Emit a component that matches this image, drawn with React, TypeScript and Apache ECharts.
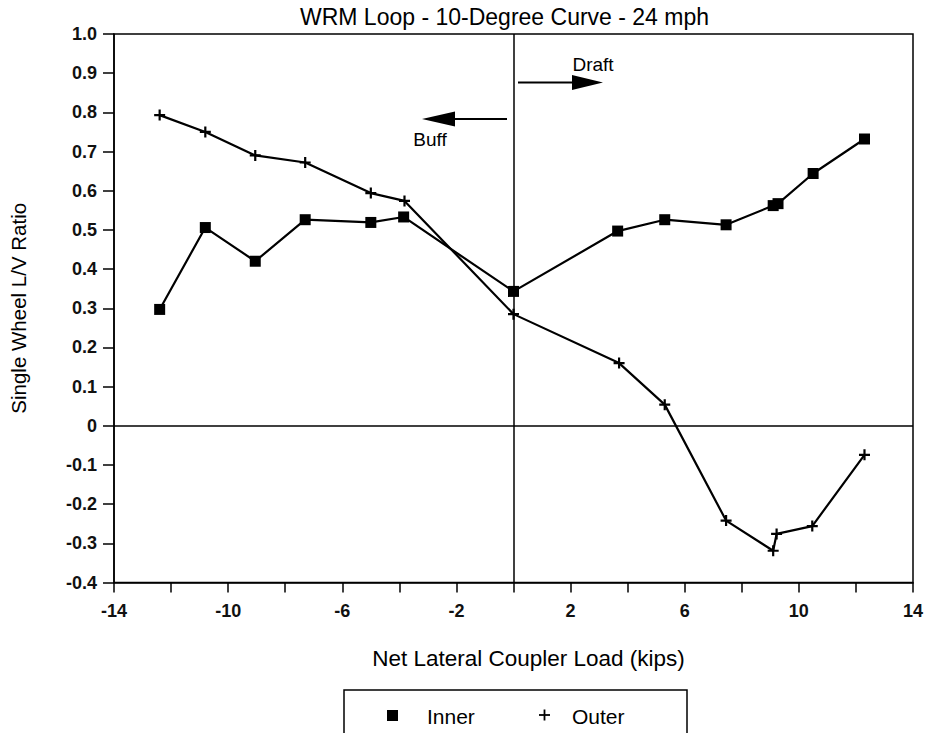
import React, { useEffect, useRef } from "react";
import * as echarts from "echarts";

const TITLE = "WRM Loop - 10-Degree Curve - 24 mph";
const X_NAME = "Net Lateral Coupler Load (kips)";
const Y_NAME = "Single Wheel L/V Ratio";

const innerX = [-12.4, -10.8, -9.05, -7.3, -5.0, -3.85, 0, 3.65, 5.3, 7.45, 9.1, 9.27, 10.5, 12.3];
const innerY = [0.297, 0.506, 0.42, 0.526, 0.519, 0.533, 0.343, 0.497, 0.526, 0.513, 0.562, 0.567, 0.644, 0.732];

const outerX = [-12.4, -10.8, -9.05, -7.3, -5.0, -3.82, 0, 3.7, 5.3, 7.45, 9.1, 9.22, 10.47, 12.3];
const outerY = [0.793, 0.75, 0.69, 0.672, 0.594, 0.574, 0.285, 0.16, 0.054, -0.242, -0.319, -0.276, -0.256, -0.074];

const legendNames = ["Inner", "Outer"];

const FONT = "'Liberation Sans', Arial, Helvetica, sans-serif";
const PLUS = "path://M4,0H6V4H10V6H6V10H4V6H0V4H4Z";

export default function App() {
  const ref = useRef<HTMLDivElement>(null);
  useEffect(() => {
    if (!ref.current) return;
    const chart = echarts.init(ref.current, null, { renderer: "svg" });
    const option: any = {
      animation: false,
      backgroundColor: "#fff",
      title: {
        text: TITLE,
        left: 300,
        top: 5,
        padding: 0,
        textStyle: { fontFamily: FONT, fontSize: 23, fontWeight: "normal", color: "#000" },
      },
      grid: {
        left: 112,
        right: 15,
        top: 34,
        bottom: 150.5,
        show: true,
        borderColor: "#000",
        borderWidth: 1.5,
        backgroundColor: "transparent",
      },
      xAxis: {
        type: "value",
        min: -14,
        max: 14,
        interval: 2,
        splitLine: { show: false },
        axisLine: { onZero: false, lineStyle: { color: "#000", width: 1.5 } },
        axisTick: { show: true, length: 10, lineStyle: { color: "#000", width: 1.5 } },
        axisLabel: {
          margin: 19,
          fontFamily: FONT,
          fontSize: 18,
          fontWeight: "bold",
          color: "#111",
          formatter: (v: number) => (Math.round(v + 14) % 4 === 0 ? String(v) : ""),
        },
        name: X_NAME,
        nameLocation: "middle",
        nameGap: 64,
        nameTextStyle: { fontFamily: FONT, fontSize: 22.5, color: "#000", padding: [0, 0, 0, 30] },
      },
      yAxis: {
        type: "value",
        min: -0.4,
        max: 1.0,
        interval: 0.1,
        splitLine: { show: false },
        axisLine: { onZero: false, lineStyle: { color: "#000", width: 1.5 } },
        axisTick: { show: true, length: 11, lineStyle: { color: "#000", width: 1.5 } },
        axisLabel: {
          margin: 17,
          fontFamily: FONT,
          fontSize: 18,
          fontWeight: "bold",
          color: "#111",
          formatter: (v: number) => (Math.abs(v) < 1e-9 ? "0" : v.toFixed(1)),
        },
        name: Y_NAME,
        nameLocation: "middle",
        nameRotate: 90,
        nameGap: 85,
        nameTextStyle: { fontFamily: FONT, fontSize: 20.5, color: "#000" },
      },
      series: [
        {
          name: legendNames[0],
          type: "line",
          data: innerX.map((x, i) => [x, innerY[i]]),
          symbol: "rect",
          symbolSize: 11,
          lineStyle: { color: "#000", width: 2.2 },
          itemStyle: { color: "#000" },
          z: 3,
          markLine: {
            silent: true,
            symbol: ["none", "none"],
            label: { show: false },
            lineStyle: { color: "#000", width: 1.5, type: "solid" },
            data: [{ xAxis: 0 }, { yAxis: 0 }],
          },
        },
        {
          name: legendNames[1],
          type: "line",
          data: outerX.map((x, i) => [x, outerY[i]]),
          symbol: PLUS,
          symbolSize: 11,
          lineStyle: { color: "#000", width: 2.2 },
          itemStyle: { color: "#000" },
          z: 3,
        },
      ],
      graphic: [
        { type: "line", shape: { x1: 507, y1: 119, x2: 450, y2: 119 }, style: { stroke: "#000", lineWidth: 2 } },
        { type: "polygon", shape: { points: [[422, 119], [455, 111.5], [455, 126.5]] }, style: { fill: "#000" } },
        { type: "text", x: 430, y: 139, style: { text: "Buff", fontFamily: FONT, fontSize: 19, fill: "#000", align: "center", verticalAlign: "middle" } },
        { type: "line", shape: { x1: 518, y1: 82.5, x2: 575, y2: 82.5 }, style: { stroke: "#000", lineWidth: 2 } },
        { type: "polygon", shape: { points: [[603, 82.5], [572, 75], [572, 90]] }, style: { fill: "#000" } },
        { type: "text", x: 593, y: 64, style: { text: "Draft", fontFamily: FONT, fontSize: 19, fill: "#000", align: "center", verticalAlign: "middle" } },
        { type: "rect", shape: { x: 344, y: 690, width: 343, height: 60 }, style: { fill: "none", stroke: "#000", lineWidth: 1.5 } },
        { type: "rect", shape: { x: 387, y: 710, width: 11, height: 11 }, style: { fill: "#000" } },
        { type: "text", x: 427, y: 716, style: { text: legendNames[0], fontFamily: FONT, fontSize: 21, fill: "#000", verticalAlign: "middle" } },
        { type: "line", shape: { x1: 539, y1: 715, x2: 550, y2: 715 }, style: { stroke: "#000", lineWidth: 1.8 } },
        { type: "line", shape: { x1: 544.5, y1: 709.5, x2: 544.5, y2: 720.5 }, style: { stroke: "#000", lineWidth: 1.8 } },
        { type: "text", x: 572, y: 716, style: { text: legendNames[1], fontFamily: FONT, fontSize: 21, fill: "#000", verticalAlign: "middle" } },
      ],
    };
    chart.setOption(option);
    return () => chart.dispose();
  }, []);
  return (
    <div
      ref={ref}
      style={{ position: "fixed", left: 0, top: 0, width: 928, height: 733, background: "#fff" }}
    />
  );
}
